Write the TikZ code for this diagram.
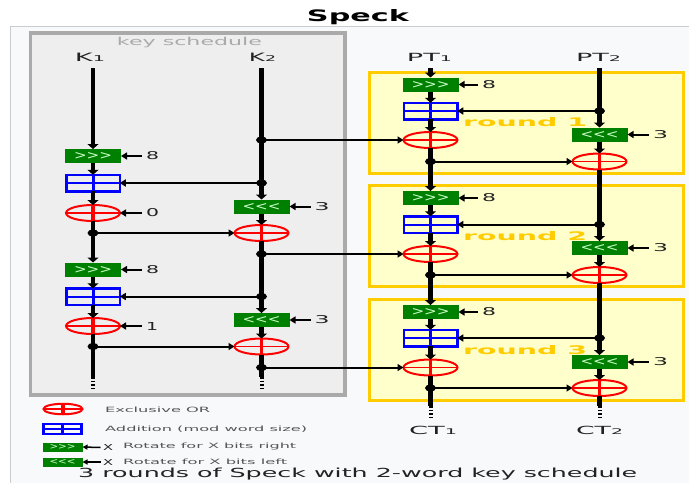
\documentclass[tikz,border=0pt]{standalone}
\usepackage{fontspec}
\setmainfont{DejaVu Sans}
\usepackage{graphicx}
\usetikzlibrary{arrows.meta,shapes.geometric}
\definecolor{framebg}{HTML}{F8F9FA}
\definecolor{frameln}{HTML}{C8CCD1}
\definecolor{ksbg}{HTML}{EEEEEE}
\definecolor{ksln}{HTML}{AAAAAA}
\definecolor{rbg}{HTML}{FFFFCC}
\definecolor{rln}{HTML}{FFCC00}
\definecolor{rotg}{HTML}{008000}
\definecolor{rotfg}{HTML}{CCFFCC}
\definecolor{xred}{HTML}{FF0000}
\definecolor{ablue}{HTML}{0000FF}
\definecolor{txt}{HTML}{222222}
\definecolor{lgtxt}{HTML}{555555}
\newcommand{\rs}[3]{\resizebox{#1pt}{#2pt}{#3}}
\newcommand{\rotrtxt}{>\kern0pt>\kern0pt>}
\newcommand{\rotltxt}{<\kern0pt<\kern0pt<}
\newcommand{\sub}[1]{{\fontsize{7}{7}\selectfont #1}}
\begin{document}
\begin{tikzpicture}[x=1pt,y=-1pt,
  dline/.style={line width=4.5pt, black},
  dlinea/.style={line width=4.5pt, black, -{Triangle[width=11pt,length=5pt]}},
  tline/.style={line width=2pt, black, -{Triangle[width=7pt,length=6pt]}},
  tplain/.style={line width=2pt, black},
  rotbox/.style={fill=rotg, minimum width=56pt, minimum height=14pt, inner sep=0pt, outer sep=0pt, text=rotfg},
  addbox/.style={draw=ablue, line width=2.5pt, minimum width=53.5pt, minimum height=16.5pt, inner sep=0pt, outer sep=0pt},
  xorop/.style={ellipse, draw=xred, line width=2pt, minimum width=54pt, minimum height=16pt, inner sep=0pt, outer sep=0pt},
  lbl/.style={inner ysep=0pt, inner xsep=4pt, anchor=west, text=txt},
  lgtext/.style={inner sep=0pt, anchor=base west, text=lgtxt},
  roundlbl/.style={inner sep=0pt, anchor=base west, text=rln},
  headlbl/.style={inner sep=0pt, anchor=base, text=txt}]
\useasboundingbox (0,0) rectangle (689,483);
\fill[white] (0,0) rectangle (689,483);
\fill[framebg] (10,26) rectangle (689,483);
\draw[frameln, line width=1pt] (10,483) -- (10,26) -- (689,26);
% title
\node[inner sep=0pt, anchor=base] (title) at (358,21) {\rs{102}{12}{\bfseries Speck}};
% key schedule box
\draw[ksln, fill=ksbg, line width=3.5pt] (30.5,33) rectangle (345,395);
\node[inner sep=0pt, anchor=base, text=ksln] (kslab) at (189.5,45) {\rs{145}{8.3}{key schedule}};
% round boxes
\draw[rln, fill=rbg, line width=3pt] (369,72.5) rectangle (683.5,173.5);
\draw[rln, fill=rbg, line width=3pt] (369,185.5) rectangle (683.5,286.5);
\draw[rln, fill=rbg, line width=3pt] (369,299.5) rectangle (683.5,400.5);
\node[roundlbl] (rl1) at (463,126) {\rs{124}{9}{\bfseries round 1}};
\node[roundlbl] (rl2) at (463,240.5) {\rs{124}{9}{\bfseries round 2}};
\node[roundlbl] (rl3) at (463,354.5) {\rs{124}{9}{\bfseries round 3}};
% column labels
\node[headlbl] (k1lab) at (90,61.5) {\rs{30}{8.4}{K\sub{1}}};
\node[headlbl] (k2lab) at (262.5,61.5) {\rs{27}{8.4}{K\sub{2}}};
\node[headlbl] (pt1lab) at (429.5,61.5) {\rs{45}{8.2}{PT\sub{1}}};
\node[headlbl] (pt2lab) at (598.5,61.5) {\rs{45}{8.2}{PT\sub{2}}};
\node[headlbl] (ct1lab) at (433,434) {\rs{48}{8.3}{CT\sub{1}}};
\node[headlbl] (ct2lab) at (599.5,434) {\rs{47}{8.3}{CT\sub{2}}};
% ---- key schedule K1 column
\coordinate (k1top) at (93,68);
\node[rotbox] (r1k) at (93,156) {\rs{38}{7}{\rotrtxt}};
\node[addbox] (a1k) at (93,183) {};
\node[xorop] (x1k) at (93,213) {};
\coordinate (d1k) at (93,233);
\node[rotbox] (r2k) at (93,269.5) {\rs{38}{7}{\rotrtxt}};
\node[addbox] (a2k) at (93,296.5) {};
\node[xorop] (x2k) at (93,326) {};
\coordinate (d2k) at (93,346.5);
\coordinate (k1end) at (93,377);
\coordinate (k1dots) at (93,389);
% ---- K2 column
\coordinate (k2top) at (261.5,68);
\coordinate (e1) at (261.5,140);
\coordinate (e2) at (261.5,183);
\node[rotbox] (l1k) at (261.5,206.5) {\rs{38}{7}{\rotltxt}};
\node[xorop] (y1k) at (261.5,233) {};
\coordinate (e3) at (261.5,254);
\coordinate (e4) at (261.5,296.5);
\node[rotbox] (l2k) at (261.5,320) {\rs{38}{7}{\rotltxt}};
\node[xorop] (y2k) at (261.5,346.5) {};
\coordinate (e5) at (261.5,367.5);
\coordinate (k2end) at (261.5,377);
\coordinate (k2dots) at (261.5,389);
% ---- PT1 column
\coordinate (p1top) at (430.5,68);
\node[rotbox] (R1) at (430.5,84.5) {\rs{38}{7}{\rotrtxt}};
\node[addbox] (A1) at (430.5,111) {};
\node[xorop] (X1) at (430.5,140) {};
\coordinate (D1) at (430.5,161.5);
\node[rotbox] (R2) at (430.5,198) {\rs{38}{7}{\rotrtxt}};
\node[addbox] (A2) at (430.5,224.5) {};
\node[xorop] (X2) at (430.5,254) {};
\coordinate (D2) at (430.5,275);
\node[rotbox] (R3) at (430.5,312) {\rs{38}{7}{\rotrtxt}};
\node[addbox] (A3) at (430.5,338) {};
\node[xorop] (X3) at (430.5,367.5) {};
\coordinate (D3) at (430.5,388);
\coordinate (p1end) at (430.5,406);
\coordinate (p1dots) at (430.5,419);
% ---- PT2 column
\coordinate (p2top) at (599.5,68);
\coordinate (F1) at (599.5,111);
\node[rotbox] (L1) at (599.5,134.5) {\rs{38}{7}{\rotltxt}};
\node[xorop] (Y1) at (599.5,161.5) {};
\coordinate (F2) at (599.5,224.5);
\node[rotbox] (L2) at (599.5,248) {\rs{38}{7}{\rotltxt}};
\node[xorop] (Y2) at (599.5,275) {};
\coordinate (F3) at (599.5,338);
\node[rotbox] (L3) at (599.5,362) {\rs{38}{7}{\rotltxt}};
\node[xorop] (Y3) at (599.5,388) {};
\coordinate (p2end) at (599.5,406);
\coordinate (p2dots) at (599.5,419);
% ---- constants
\node[lbl] (c1) at (142,156) {\rs{13}{8}{8}};
\node[lbl] (c2) at (142,213) {\rs{13}{8}{0}};
\node[lbl] (c3) at (142,269.5) {\rs{13}{8}{8}};
\node[lbl] (c4) at (142,326) {\rs{12}{8}{1}};
\node[lbl] (c5) at (310.5,206.5) {\rs{15}{8}{3}};
\node[lbl] (c6) at (310.5,320) {\rs{15}{8}{3}};
\node[lbl] (c7) at (478,84.5) {\rs{14}{8}{8}};
\node[lbl] (c8) at (478,198) {\rs{14}{8}{8}};
\node[lbl] (c9) at (478,312) {\rs{14}{8}{8}};
\node[lbl] (c10) at (649,134.5) {\rs{15}{8}{3}};
\node[lbl] (c11) at (649,248) {\rs{15}{8}{3}};
\node[lbl] (c12) at (649,362) {\rs{15}{8}{3}};
\draw[tline] (c1.west) -- (r1k.east);
\draw[tline] (c2.west) -- (x1k.east);
\draw[tline] (c3.west) -- (r2k.east);
\draw[tline] (c4.west) -- (x2k.east);
\draw[tline] (c5.west) -- (l1k.east);
\draw[tline] (c6.west) -- (l2k.east);
\draw[tline] (c7.west) -- (R1.east);
\draw[tline] (c8.west) -- (R2.east);
\draw[tline] (c9.west) -- (R3.east);
\draw[tline] (c10.west) -- (L1.east);
\draw[tline] (c11.west) -- (L2.east);
\draw[tline] (c12.west) -- (L3.east);
% ---- thick data lines
\draw[dlinea] (k1top) -- (r1k.north);
\draw[dlinea] (r1k.south) -- (a1k.north);
\draw[dlinea] (a1k.south) -- (x1k.north);
\draw[dlinea] (x1k.south) -- (d1k) -- (r2k.north);
\draw[dlinea] (r2k.south) -- (a2k.north);
\draw[dlinea] (a2k.south) -- (x2k.north);
\draw[dline] (x2k.south) -- (d2k) -- (k1end);
\draw[dlinea] (k2top) -- (e1) -- (e2) -- (l1k.north);
\draw[dlinea] (l1k.south) -- (y1k.north);
\draw[dlinea] (y1k.south) -- (e3) -- (e4) -- (l2k.north);
\draw[dlinea] (l2k.south) -- (y2k.north);
\draw[dline] (y2k.south) -- (e5) -- (k2end);
\draw[dlinea] (p1top) -- (R1.north);
\draw[dlinea] (R1.south) -- (A1.north);
\draw[dlinea] (A1.south) -- (X1.north);
\draw[dlinea] (X1.south) -- (D1) -- (R2.north);
\draw[dlinea] (R2.south) -- (A2.north);
\draw[dlinea] (A2.south) -- (X2.north);
\draw[dlinea] (X2.south) -- (D2) -- (R3.north);
\draw[dlinea] (R3.south) -- (A3.north);
\draw[dlinea] (A3.south) -- (X3.north);
\draw[dline] (X3.south) -- (D3) -- (p1end);
\draw[dlinea] (p2top) -- (F1) -- (L1.north);
\draw[dlinea] (L1.south) -- (Y1.north);
\draw[dlinea] (Y1.south) -- (F2) -- (L2.north);
\draw[dlinea] (L2.south) -- (Y2.north);
\draw[dlinea] (Y2.south) -- (F3) -- (L3.north);
\draw[dlinea] (L3.south) -- (Y3.north);
\draw[dline] (Y3.south) -- (p2end);
\draw[line width=4pt, dash pattern=on 1.6pt off 2pt] (k1end) -- (k1dots);
\draw[line width=4pt, dash pattern=on 1.6pt off 2pt] (k2end) -- (k2dots);
\draw[line width=4pt, dash pattern=on 1.6pt off 2pt] (p1end) -- (p1dots);
\draw[line width=4pt, dash pattern=on 1.6pt off 2pt] (p2end) -- (p2dots);
% ---- horizontal connectors
\draw[tline] (e1) -- (X1.west);
\draw[tline] (e2) -- (a1k.east);
\draw[tline] (d1k) -- (y1k.west);
\draw[tline] (e3) -- (X2.west);
\draw[tline] (e4) -- (a2k.east);
\draw[tline] (d2k) -- (y2k.west);
\draw[tline] (e5) -- (X3.west);
\draw[tline] (F1) -- (A1.east);
\draw[tline] (D1) -- (Y1.west);
\draw[tline] (F2) -- (A2.east);
\draw[tline] (D2) -- (Y2.west);
\draw[tline] (F3) -- (A3.east);
\draw[tline] (D3) -- (Y3.west);
% ---- dots
\foreach \p in {d1k,d2k,e1,e2,e3,e4,e5,D1,D2,D3,F1,F2,F3}
  \fill[black] (\p) ellipse [x radius=5.5pt, y radius=3.6pt];
% ---- legend
\node[xorop, minimum width=39pt, minimum height=10.5pt] (lgx) at (63,409) {};
\node[addbox, minimum width=38pt, minimum height=10pt, line width=2.2pt] (lga) at (62.5,429) {};
\node[rotbox, minimum width=40pt, minimum height=9pt] (lgr) at (62.5,447) {\rs{26}{5}{\rotrtxt}};
\node[rotbox, minimum width=40pt, minimum height=9pt] (lgl) at (62.5,462) {\rs{26}{5}{\rotltxt}};
\node[inner xsep=2.5pt, inner ysep=0pt, anchor=west, text=txt] (lxr) at (100.5,447.5) {\rs{10}{6}{X}};
\node[inner xsep=2.5pt, inner ysep=0pt, anchor=west, text=txt] (lxl) at (100.5,462) {\rs{10}{6}{X}};
\draw[line width=1.5pt, -{Triangle[width=5pt,length=5pt]}] (lxr.west) -- (lgr.east);
\draw[line width=1.5pt, -{Triangle[width=5pt,length=5pt]}] (lxl.west) -- (lgl.east);
\node[lgtext] (lt1) at (105,412) {\rs{105}{5.5}{Exclusive OR}};
\node[lgtext] (lt2) at (105,431.5) {\rs{202}{5.5}{Addition (mod word size)}};
\node[lgtext] (lt3) at (123,448.5) {\rs{173}{5.5}{Rotate for X bits right}};
\node[lgtext] (lt4) at (123,464) {\rs{164}{5.5}{Rotate for X bits left}};
% ---- crosses
\foreach \n in {x1k,x2k,y1k,y2k,X1,X2,X3,Y1,Y2,Y3,lgx} {
  \draw[xred, line width=3.5pt] (\n.north) -- (\n.south);
  \draw[xred, line width=1.8pt] (\n.west) -- (\n.east);
}
\foreach \n in {a1k,a2k,A1,A2,A3,lga} {
  \draw[ablue, line width=3pt] (\n.north) -- (\n.south);
  \draw[ablue, line width=2pt] (\n.west) -- (\n.east);
}
% ---- caption
\node[inner sep=0pt, anchor=base west, text=txt] (cap) at (78,477) {\rs{559}{9.5}{3 rounds of Speck with 2-word key schedule}};
\end{tikzpicture}
\end{document}
